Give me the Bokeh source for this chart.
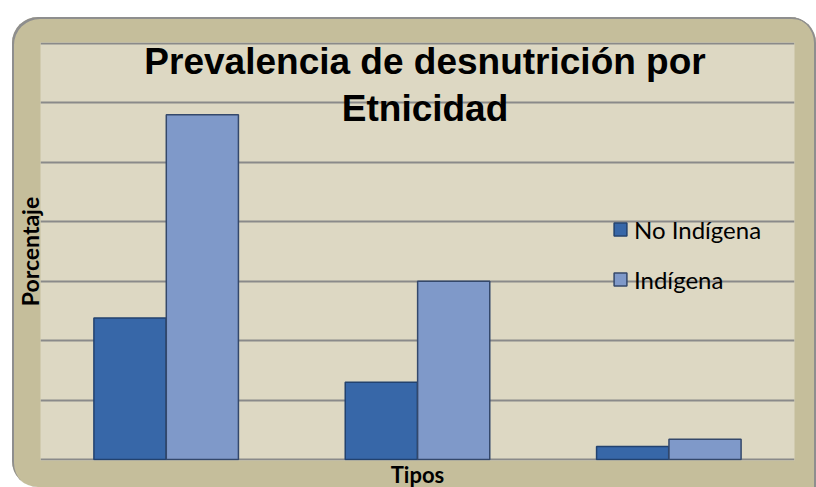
from bokeh.plotting import figure
from bokeh.models import (FactorRange, ColumnDataSource, Label, Title, FixedTicker,
                          Legend, LegendItem)
from bokeh.transform import dodge
from bokeh.embed import file_html
from bokeh.resources import INLINE

# ---- data ----
tipos = ["Crónica", "Global", "Aguda"]
no_indigena = [11.9, 6.5, 1.1]
indigena = [29.0, 15.0, 1.7]
y_ticks = [0, 5, 10, 15, 20, 25, 30, 35]
series_names = ["No Indígena", "Indígena"]
title_lines = ["Prevalencia de desnutrición por", "Etnicidad"]
x_title = "Tipos"
y_title = "Porcentaje"

src = ColumnDataSource(dict(tipo=tipos, no=no_indigena, ind=indigena))

p = figure(frame_width=754, frame_height=418, x_range=FactorRange(*tipos),
           y_range=(-0.08, 35.08), output_backend="svg", toolbar_location=None,
           min_border_left=28, min_border_top=25, min_border_right=22,
           min_border_bottom=27)
p.styles = {
    "margin-left": "12px",
    "margin-top": "17px",
    "background-color": "#C5BE9B",
    "border-radius": "26px 26px 0 26px",
    "box-shadow": "inset 2px 2px 0 0 #8E8E8E, inset -2px 0 0 0 #8E8E8E",
}
p.border_fill_alpha = 0
p.background_fill_color = "#DDD8C3"
p.outline_line_color = None
p.xaxis.visible = False
p.yaxis.visible = False

p.xgrid.visible = False
p.ygrid.ticker = FixedTicker(ticks=y_ticks)
p.ygrid.grid_line_color = "#8A8A8A"
p.ygrid.grid_line_width = 2

r1 = p.vbar(x=dodge("tipo", -0.144, range=p.x_range), top="no", width=0.287,
            source=src, fill_color="#3767A8", line_color="#22426F", line_width=1.5)
r2 = p.vbar(x=dodge("tipo", 0.144, range=p.x_range), top="ind", width=0.287,
            source=src, fill_color="#7F99C9", line_color="#34486B", line_width=1.5)

legend = Legend(items=[LegendItem(label=series_names[0], renderers=[r1]),
                       LegendItem(label=series_names[1], renderers=[r2])],
                location=(572, 166), background_fill_alpha=0, border_line_color=None,
                padding=0, margin=0, spacing=20, glyph_width=16, glyph_height=16,
                label_standoff=6, label_text_font="Lato", label_text_font_size="24px",
                label_text_color="black", label_height=30)
p.add_layout(legend, "center")

p.add_layout(Title(text=y_title, align="center", text_font="Lato",
                   text_font_style="bold", text_font_size="23px",
                   text_color="black", standoff=-7), "left")
p.add_layout(Title(text=x_title, align="center", text_font="Lato",
                   text_font_style="bold", text_font_size="22px",
                   text_color="black", standoff=-3), "below")

p.add_layout(Label(x=1.53, y=33.44, text=title_lines[0], text_align="center",
                   text_baseline="middle", text_font="Liberation Sans",
                   text_font_style="bold", text_font_size="37px", text_color="black"))
p.add_layout(Label(x=1.53, y=29.53, text=title_lines[1], text_align="center",
                   text_baseline="middle", text_font="Liberation Sans",
                   text_font_style="bold", text_font_size="37px", text_color="black"))

open("out.html", "w").write(file_html(p, INLINE))
